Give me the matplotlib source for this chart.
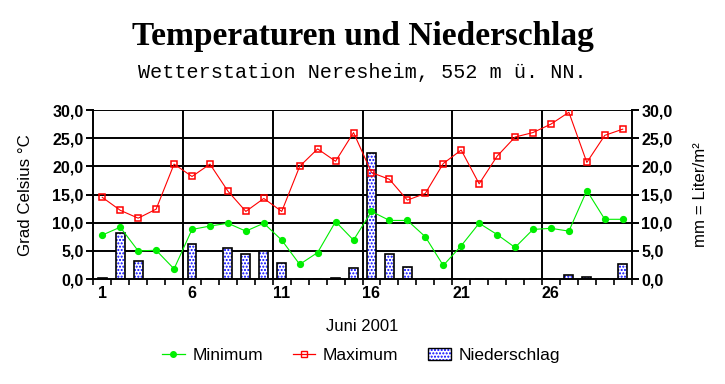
import matplotlib
matplotlib.use('Agg')
import matplotlib.pyplot as plt
from matplotlib.patches import Patch
from matplotlib.lines import Line2D
import numpy as np

# daily values, June 2001
days = list(range(1, 31))
t_min = [7.8, 9.2, 5.0, 5.1, 1.8, 8.8, 9.4, 9.9, 8.5, 9.9,
         6.9, 2.6, 4.7, 10.2, 6.9, 12.0, 10.4, 10.4, 7.5, 2.4,
         5.9, 9.9, 7.9, 5.6, 8.8, 9.0, 8.5, 15.7, 10.6, 10.6]
t_max = [14.5, 12.2, 10.8, 12.4, 20.4, 18.2, 20.4, 15.6, 12.0, 14.3,
         12.0, 20.0, 23.1, 20.9, 26.0, 18.9, 17.7, 14.0, 15.2, 20.5,
         22.9, 16.9, 21.8, 25.2, 26.0, 27.5, 29.6, 20.7, 25.5, 26.6]
rain = [0.2, 8.2, 3.2, 0.0, 0.0, 6.2, 0.0, 5.5, 4.4, 5.0,
        2.8, 0.0, 0.0, 0.2, 1.9, 22.3, 4.4, 2.1, 0.0, 0.0,
        0.0, 0.0, 0.0, 0.0, 0.0, 0.0, 0.7, 0.4, 0.0, 2.7]
label_days = [1, 6, 11, 16, 21, 26]
yticks = [0, 5, 10, 15, 20, 25, 30]

plt.rcParams['hatch.linewidth'] = 1.0
sans = 'Liberation Sans'

fig = plt.figure(figsize=(7.25, 3.84), dpi=100)
ax = fig.add_axes([0.1287, 0.2734, 0.7426, 0.4401])

# precipitation bars: blue dot hatch, black outline
ax.bar(days, rain, width=0.5, facecolor='white', edgecolor='#0000ff',
       hatch='.....', linewidth=0, zorder=2)
ax.bar(days, rain, width=0.5, facecolor='none', edgecolor='black',
       linewidth=1.2, zorder=2)

ax.plot(days, t_max, color='#ff0000', lw=0.8, marker='s', ms=4.5,
        mfc='none', mec='#ff0000', mew=1.1, zorder=4)
ax.plot(days, t_min, color='#00ee00', lw=0.8, marker='o', ms=4.2,
        mfc='#00ee00', mec='#00ee00', zorder=4)

ax.set_xlim(0.5, 30.5)
ax.set_ylim(0, 30)

# grid
for y in yticks[1:]:
    ax.axhline(y, color='black', lw=1.4, zorder=1)
for d in label_days[1:]:
    ax.axvline(d - 0.5, color='black', lw=1.4, zorder=1)

for s in ['left', 'right', 'bottom']:
    ax.spines[s].set_linewidth(1.4)
ax.spines['top'].set_visible(False)

ax.set_xticks(np.arange(0.5, 31, 1), minor=True)
ax.set_xticks(label_days)
ax.set_xticklabels([str(d) for d in label_days], fontsize=11.5, fontweight='bold',
                   family=sans)
ax.tick_params(axis='x', which='major', length=0, pad=5)
ax.tick_params(axis='x', which='minor', length=4, width=1.2, direction='out')

fmt = [f'{v:.1f}'.replace('.', ',') for v in yticks]
ax.set_yticks(yticks)
ax.set_yticklabels(fmt, fontsize=11.5, fontweight='bold', family=sans)
ax.tick_params(axis='y', length=5, width=1.4, direction='out', pad=2)

ax2 = ax.twinx()
ax2.set_ylim(0, 30)
ax2.set_yticks(yticks)
ax2.set_yticklabels(fmt, fontsize=11.5, fontweight='bold', family=sans)
ax2.tick_params(axis='y', length=5, width=1.4, direction='out', pad=2)
for s in ax2.spines.values():
    s.set_visible(False)

fig.text(0.5, 0.905, 'Temperaturen und Niederschlag', ha='center', va='center',
         fontsize=24, fontweight='bold', family='Liberation Serif')
fig.text(0.5, 0.812, 'Wetterstation Neresheim, 552 m ü. NN.', ha='center',
         va='center', fontsize=14.5, family='Liberation Mono')

fig.text(0.035, 0.492, 'Grad Celsius °C', rotation=90, ha='center', va='center',
         fontsize=12.2, family=sans)
fig.text(0.966, 0.492, 'mm = Liter/m²', rotation=90, ha='center', va='center',
         fontsize=12.2, family=sans)
fig.text(0.5, 0.151, 'Juni 2001', ha='center', va='center',
         fontsize=12, family=sans)

handles = [
    Line2D([], [], color='#00ee00', lw=0.9, marker='o', ms=4, mfc='#00ee00', mec='#00ee00'),
    Line2D([], [], color='#ff0000', lw=0.9, marker='s', ms=4, mfc='none', mec='#ff0000'),
    (Patch(facecolor='white', edgecolor='#0000ff', hatch='.....', lw=0),
     Patch(facecolor='none', edgecolor='black', lw=1.0)),
]
fig.legend(handles, ['Minimum', 'Maximum', 'Niederschlag'], loc='center',
           bbox_to_anchor=(0.498, 0.075), ncol=3, frameon=False,
           prop={'family': sans, 'size': 12.5},
           handlelength=1.3, columnspacing=1.7, handletextpad=0.45)

fig.savefig('out.png', dpi=100, facecolor='white')
